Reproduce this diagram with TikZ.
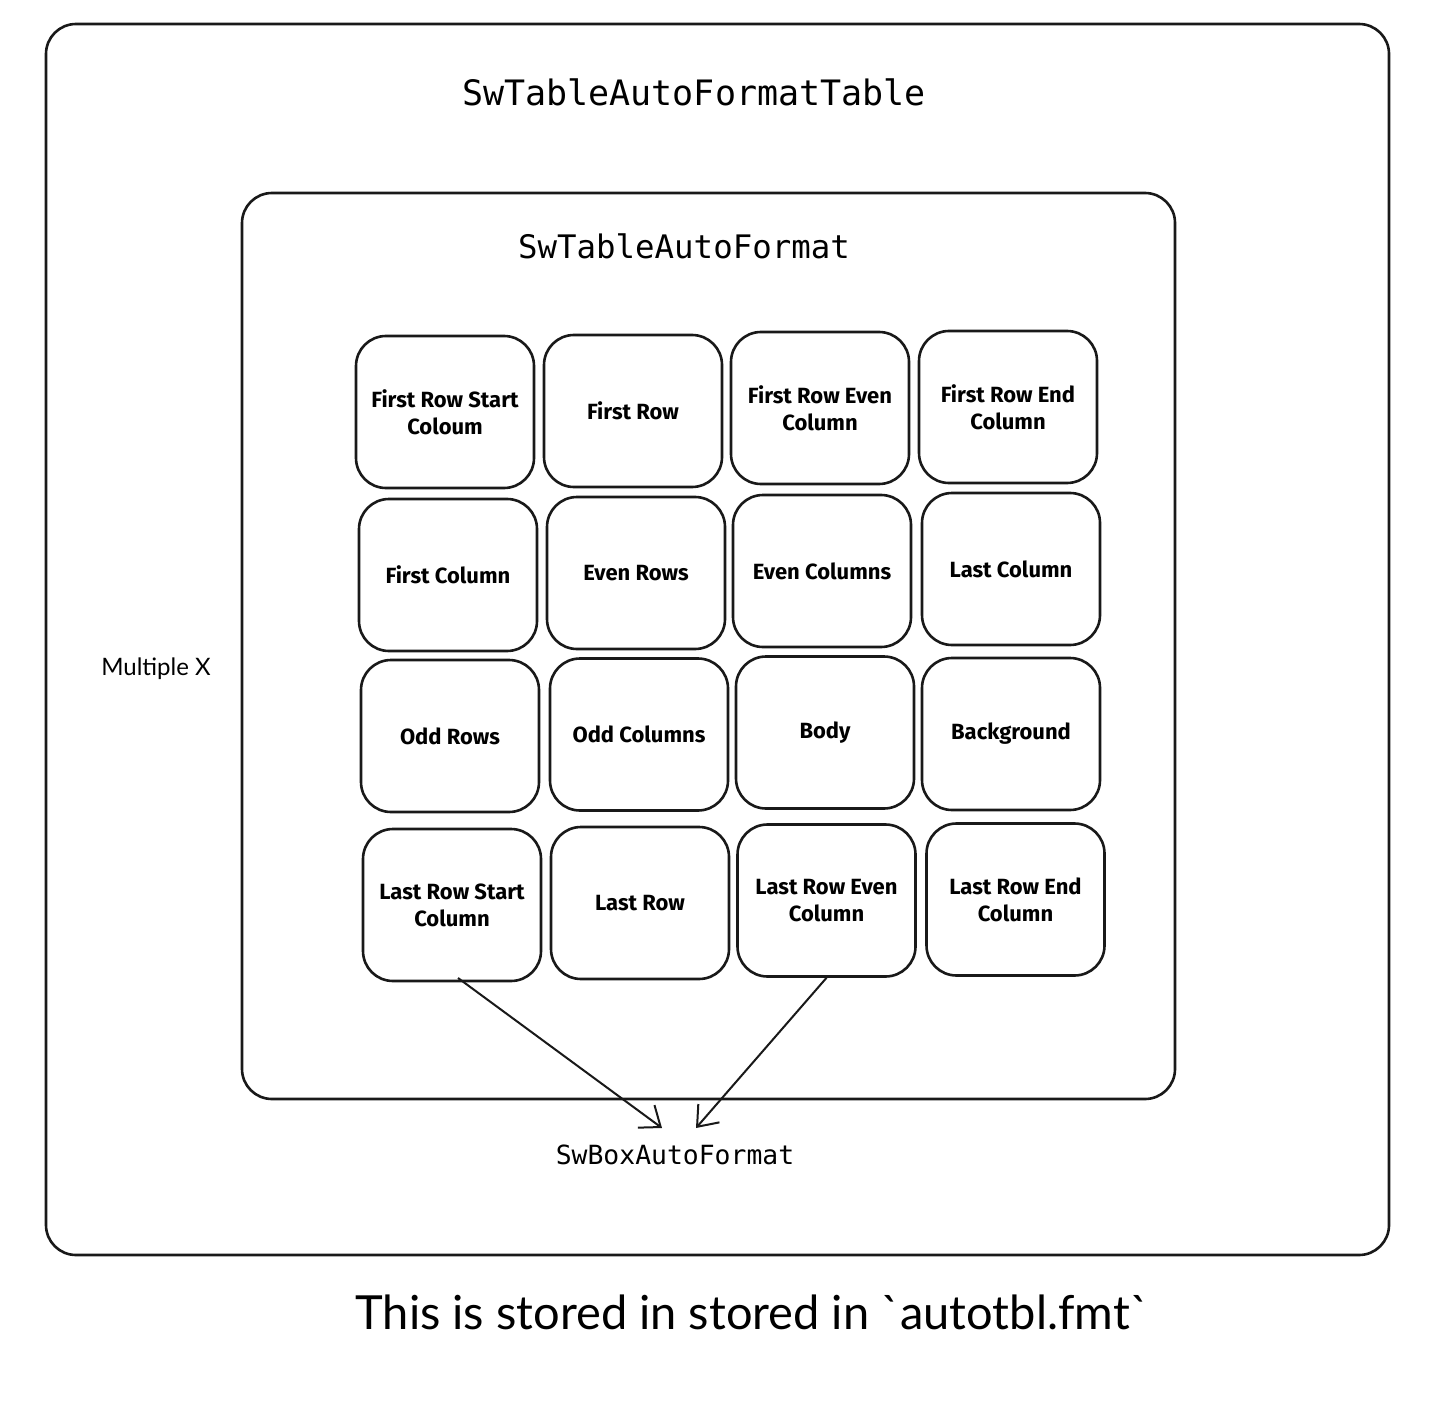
\documentclass[tikz,border=0pt]{standalone}
\usepackage{fontspec}
\setmainfont{Liberation Sans}
\newfontfamily\monofnt{DejaVu Sans Mono}
\newfontfamily\lblfnt{Fira Sans}
\newfontfamily\handfnt{Lato}
\usetikzlibrary{arrows.meta}
\begin{document}
\begin{tikzpicture}[x=0.5pt,y=-0.5pt,
  frame/.style={draw=black!90,line width=1.3pt,rounded corners=15pt},
  cell/.style={draw=black!90,line width=1.3pt,rounded corners=15pt,minimum width=89pt,minimum height=76pt,align=center,font=\lblfnt\bfseries\fontsize{11}{13.5}\selectfont,inner sep=0pt},
  title/.style={font=\monofnt\fontsize{17.5}{20}\selectfont},
  link/.style={draw=black!90,line width=1pt,-{Straight Barb[length=9pt,width=14pt,line width=1pt]}}]
\useasboundingbox (0,0) rectangle (1438,1406);
\node[frame,minimum width=671.5pt,minimum height=615.5pt,inner sep=0pt] (outer) at (717.5,639.5) {};
\node[frame,minimum width=466.5pt,minimum height=453pt,inner sep=0pt] (inner) at (708.5,646) {};
\node[title] (t1) at (694,92) {SwTableAutoFormatTable};
\node[title,font=\monofnt\fontsize{16.2}{19}\selectfont] (t2) at (684,246) {SwTableAutoFormat};
\node[font=\handfnt\fontsize{12}{14}\selectfont] (mult) at (156,669) {Multiple X};
% row 1
\node[cell] (c11) at (445,412) {First Row Start\\Coloum};
\node[cell] (c12) at (633,411) {First Row};
\node[cell] (c13) at (820,408) {First Row Even\\Column};
\node[cell] (c14) at (1008,407) {First Row End\\Column};
% row 2
\node[cell] (c21) at (448,575) {First Column};
\node[cell] (c22) at (636,573) {Even Rows};
\node[cell] (c23) at (822,571) {Even Columns};
\node[cell] (c24) at (1011,569) {Last Column};
% row 3
\node[cell] (c31) at (450,736) {Odd Rows};
\node[cell] (c32) at (639,734.5) {Odd Columns};
\node[cell] (c33) at (825,732.5) {Body};
\node[cell] (c34) at (1011,734) {Background};
% row 4
\node[cell] (c41) at (452,905) {Last Row Start\\Column};
\node[cell] (c42) at (640,903) {Last Row};
\node[cell] (c43) at (826.5,900.5) {Last Row Even\\Column};
\node[cell] (c44) at (1015.5,899.5) {Last Row End\\Column};
\node[font=\monofnt\fontsize{13.2}{16}\selectfont] (box) at (675,1155) {SwBoxAutoFormat};
\coordinate (a1) at (662,1128);
\coordinate (a2) at (696,1128);
\draw[link] (458,978) -- (a1);
\draw[link] (c43.south) -- (a2);
\node[font=\handfnt\fontsize{23.5}{27}\selectfont] (note) at (752,1312) {This is stored in stored in `autotbl.fmt`};
\end{tikzpicture}
\end{document}
